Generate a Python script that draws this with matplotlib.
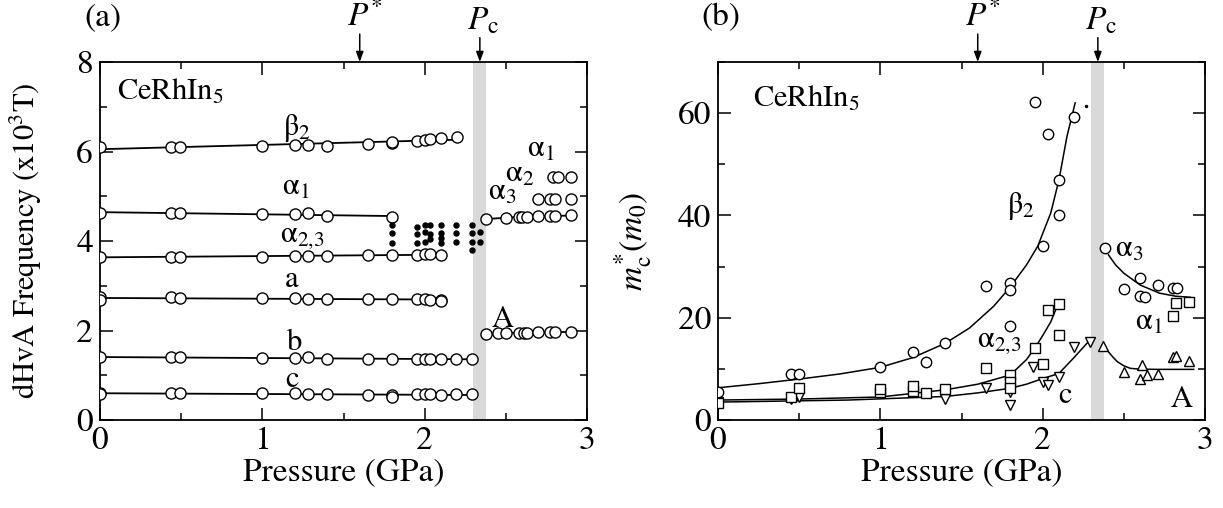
import numpy as np
import matplotlib
matplotlib.use("Agg")
import matplotlib.pyplot as plt
from matplotlib.ticker import MultipleLocator

plt.rcParams['font.family'] = ['STIXGeneral', 'DejaVu Serif']
plt.rcParams['mathtext.fontset'] = 'stix'

# ---------------- Panel (a): dHvA frequencies (x10^3 T) ----------------
beta2_P = [0, 0.44, 0.49, 1.0, 1.2, 1.28, 1.4, 1.65, 1.8, 1.8, 1.95, 2.0, 2.03, 2.1, 2.2]
beta2_F = [6.11, 6.11, 6.10, 6.12, 6.14, 6.15, 6.12, 6.16, 6.19, 6.22, 6.24, 6.26, 6.28, 6.30, 6.32]
alpha1_P = [0, 0.44, 0.49, 1.0, 1.2, 1.28, 1.4, 1.8]
alpha1_F = [4.63, 4.63, 4.62, 4.60, 4.60, 4.62, 4.55, 4.54]
alpha23_P = [0, 0.44, 0.49, 1.0, 1.2, 1.28, 1.4, 1.65, 1.8, 1.95, 2.0, 2.03, 2.1]
alpha23_F = [3.65, 3.65, 3.65, 3.64, 3.66, 3.66, 3.67, 3.69, 3.69, 3.69, 3.70, 3.70, 3.69]
a_P = [0, 0, 0.44, 0.49, 1.0, 1.2, 1.28, 1.4, 1.65, 1.8, 1.95, 2.0, 2.03, 2.1, 2.1]
a_F = [2.74, 2.68, 2.74, 2.72, 2.73, 2.72, 2.70, 2.71, 2.70, 2.70, 2.70, 2.70, 2.69, 2.69, 2.66]
b_P = [0, 0.44, 0.49, 1.0, 1.2, 1.28, 1.4, 1.65, 1.8, 1.95, 2.0, 2.03, 2.1, 2.19, 2.29]
b_F = [1.40, 1.40, 1.40, 1.38, 1.38, 1.40, 1.37, 1.37, 1.37, 1.36, 1.36, 1.36, 1.36, 1.36, 1.36]
c_P = [0, 0, 0.44, 0.49, 1.0, 1.2, 1.28, 1.4, 1.65, 1.8, 1.8, 1.95, 2.0, 2.03, 2.1, 2.19, 2.29]
c_F = [0.60, 0.57, 0.60, 0.60, 0.60, 0.60, 0.58, 0.58, 0.55, 0.55, 0.52, 0.57, 0.57, 0.57, 0.56, 0.57, 0.57]
hp_alpha3_P = [2.38, 2.5, 2.58, 2.60, 2.63, 2.70, 2.77, 2.80, 2.9]
hp_alpha3_F = [4.49, 4.52, 4.54, 4.54, 4.54, 4.55, 4.56, 4.56, 4.57]
hp_alpha2_P = [2.70, 2.77, 2.80, 2.9]
hp_alpha2_F = [4.94, 4.94, 4.94, 4.94]
hp_alpha1_P = [2.79, 2.82, 2.9]
hp_alpha1_F = [5.42, 5.42, 5.42]
hp_A_P = [2.38, 2.45, 2.5, 2.58, 2.61, 2.63, 2.70, 2.77, 2.80, 2.9]
hp_A_F = [1.93, 1.94, 1.95, 1.95, 1.95, 1.95, 1.96, 1.96, 1.96, 1.97]
dots_P = [1.8, 1.8, 1.8, 1.95, 1.95, 1.95, 2.0, 2.0, 2.0, 2.03, 2.03, 2.03,
          2.1, 2.1, 2.1, 2.1, 2.19, 2.19, 2.19, 2.29, 2.29, 2.29, 2.29, 2.34, 2.34]
dots_F = [4.36, 4.17, 3.95, 4.32, 4.16, 3.95, 4.36, 4.20, 3.97, 4.36, 4.15, 4.05,
          4.36, 4.17, 4.06, 3.95, 4.36, 4.17, 3.98, 4.36, 4.17, 3.98, 3.80, 4.20, 3.98]

# ---------------- Panel (b): cyclotron masses m*_c (m0) ----------------
mb2_P = [0, 0.45, 0.5, 1.0, 1.2, 1.28, 1.4, 1.65, 1.8, 1.8, 1.8, 1.95, 2.0, 2.035, 2.1, 2.1, 2.19]
mb2_m = [5.5, 8.9, 8.9, 10.4, 13.2, 11.4, 15.1, 26.2, 26.7, 25.4, 18.4, 62.2, 34.1, 55.9, 40.1, 46.9, 59.3]
mb2_curveP = [0, 0.25, 0.5, 0.75, 1.0, 1.2, 1.4, 1.55, 1.7, 1.8, 1.9, 1.97, 2.05, 2.1, 2.15, 2.2]
mb2_curvem = [6.3, 7.1, 8.0, 9.0, 10.3, 12.2, 15.0, 18.0, 22.3, 26.0, 30.3, 34.0, 40.5, 46.9, 55.5, 62.0]
ma23_P = [0, 0.45, 0.5, 1.0, 1.0, 1.2, 1.2, 1.28, 1.4, 1.65, 1.8, 1.8, 1.8, 1.95, 2.0, 2.035, 2.1, 2.1]
ma23_m = [3.4, 4.4, 6.3, 5.5, 6.0, 5.7, 6.6, 5.2, 6.0, 10.2, 8.8, 7.5, 6.2, 14.0, 11.0, 21.5, 22.7, 16.6]
ma23_curveP = [0, 0.5, 1.0, 1.4, 1.6, 1.8, 1.9, 1.95, 2.0, 2.05, 2.09]
ma23_curvem = [3.9, 4.1, 4.5, 5.9, 7.0, 8.8, 11.8, 14.0, 16.5, 19.2, 22.3]
mc_P = [0, 0.45, 0.5, 1.4, 1.65, 1.8, 1.8, 1.94, 2.0, 2.03, 2.1, 2.19, 2.29]
mc_m = [3.6, 4.2, 4.5, 4.2, 6.2, 5.4, 2.9, 10.4, 7.5, 6.8, 8.5, 14.2, 15.3]
mc_curveP = [0, 0.8, 1.4, 1.6, 1.8, 1.9, 2.0, 2.1, 2.19, 2.29]
mc_curvem = [3.5, 3.9, 4.6, 5.3, 6.2, 7.0, 8.1, 9.1, 12.1, 15.6]
ma3_P = [2.385, 2.5, 2.6, 2.6, 2.63, 2.71, 2.80, 2.83]
ma3_m = [33.6, 25.6, 27.7, 24.2, 24.1, 26.4, 25.9, 25.9]
ma3_curveP = [2.405, 2.45, 2.5, 2.6, 2.72, 2.82, 2.91]
ma3_curvem = [32.3, 30.3, 28.7, 26.4, 24.8, 24.2, 24.0]
ma1_P = [2.8, 2.82, 2.9]
ma1_m = [20.3, 22.9, 23.1]
mA_P = [2.37, 2.5, 2.6, 2.61, 2.64, 2.71, 2.80, 2.82, 2.9]
mA_m = [14.5, 9.3, 8.1, 10.8, 8.8, 9.0, 12.3, 12.5, 11.6]
mA_curveP = [2.395, 2.43, 2.46, 2.5, 2.54, 2.6, 2.7, 2.8, 2.93]
mA_curvem = [13.7, 12.4, 11.4, 10.6, 10.1, 9.95, 9.9, 9.9, 9.9]
stray_P = [2.27]
stray_m = [61.4]

P_star = 1.6
Pc_band = (2.30, 2.38)
Pc = 2.34

FS = 24      # tick labels, axis labels, P*/Pc
FT = 22      # in-plot labels
W, H = 1223, 508
fig = plt.figure(figsize=(W / 100, H / 100), dpi=100)
axA = fig.add_axes([100 / W, 88 / H, 487 / W, 358 / H])
axB = fig.add_axes([718 / W, 88 / H, 487 / W, 358 / H])

for ax in (axA, axB):
    ax.axvspan(*Pc_band, color='#d9d9d9', lw=0, zorder=0)
    ax.set_xlim(0, 3)
    ax.xaxis.set_major_locator(MultipleLocator(1))
    ax.xaxis.set_minor_locator(MultipleLocator(0.5))
    ax.tick_params(which='both', direction='in', top=True, right=True,
                   labelsize=FS, width=1.1, pad=5)
    ax.tick_params(which='major', length=9)
    ax.tick_params(which='minor', length=5)
    for s in ax.spines.values():
        s.set_linewidth(1.3)
    ax.set_xlabel('Pressure (GPa)', fontsize=FS, labelpad=1)
    ax.annotate('', xy=(P_star, 1.0), xytext=(P_star, 1.078),
                xycoords=('data', 'axes fraction'),
                arrowprops=dict(arrowstyle='-|>,head_length=0.6,head_width=0.22',
                                color='black', lw=1.1, shrinkA=0, shrinkB=0),
                annotation_clip=False)
    ax.annotate('', xy=(Pc, 1.0), xytext=(Pc, 1.068),
                xycoords=('data', 'axes fraction'),
                arrowprops=dict(arrowstyle='-|>,head_length=0.6,head_width=0.22',
                                color='black', lw=1.1, shrinkA=0, shrinkB=0),
                annotation_clip=False)
    ax.text(P_star - 0.08, 1.083, r'$P^{*}$', transform=ax.get_xaxis_transform(),
            fontsize=FS, ha='left', va='bottom')
    ax.text(Pc - 0.08, 1.07, r'$P_{\mathrm{c}}$', transform=ax.get_xaxis_transform(),
            fontsize=FS, ha='left', va='bottom')

# ---- Panel (a)
circ = dict(marker='o', ms=8, mfc='white', mec='black', mew=1.0, ls='none', zorder=3)
series_a = [(beta2_P, beta2_F), (alpha1_P, alpha1_F), (alpha23_P, alpha23_F),
            (a_P, a_F), (b_P, b_F), (c_P, c_F)]
for P, F in series_a:
    k, q = np.polyfit(P, F, 1)
    xs = np.array([min(P), max(P)])
    axA.plot(xs, k * xs + q, color='black', lw=1.3, zorder=2)
    axA.plot(P, F, **circ)
axA.plot(hp_alpha3_P, hp_alpha3_F, color='black', lw=1.3, zorder=2)
axA.plot(hp_alpha3_P, hp_alpha3_F, **circ)
axA.plot(hp_alpha2_P, hp_alpha2_F, **circ)
axA.plot(hp_alpha1_P, hp_alpha1_F, **circ)
axA.plot(hp_A_P, hp_A_F, color='black', lw=1.3, zorder=2)
axA.plot(hp_A_P, hp_A_F, **circ)
axA.plot(dots_P, dots_F, marker='o', ms=3.6, color='black', ls='none', zorder=3)

axA.set_ylim(0, 8)
axA.yaxis.set_major_locator(MultipleLocator(2))
axA.yaxis.set_minor_locator(MultipleLocator(1))
axA.set_ylabel(r'dHvA Frequency (x10$^{3}$T)', fontsize=22)
axA.yaxis.set_label_coords(-56 / 487, 0.5)

tk = dict(fontsize=FT, ha='left', va='baseline')
axA.text(0.105, 7.15, r'CeRhIn$_{5}$', **tk)
axA.text(1.13, 6.37, r'β$_{2}$', **tk)
axA.text(1.12, 5.03, r'α$_{1}$', **tk)
axA.text(1.11, 3.98, r'α$_{2{,}3}$', **tk)
axA.text(1.14, 2.97, 'a', **tk)
axA.text(1.15, 1.56, 'b', **tk)
axA.text(1.14, 0.74, 'c', **tk)
axA.text(2.415, 2.08, 'A', **tk)
axA.text(2.63, 5.88, r'α$_{1}$', **tk)
axA.text(2.495, 5.32, r'α$_{2}$', **tk)
axA.text(2.39, 4.92, r'α$_{3}$', **tk)

# ---- Panel (b)
mk = dict(mfc='white', mec='black', mew=1.0, ls='none', zorder=3)
axB.plot(mb2_curveP, mb2_curvem, color='black', lw=1.1, zorder=2)
axB.plot(ma23_curveP, ma23_curvem, color='black', lw=1.1, zorder=2)
axB.plot(mc_curveP, mc_curvem, color='black', lw=1.1, zorder=2)
axB.plot(ma3_curveP, ma3_curvem, color='black', lw=1.1, zorder=2)
axB.plot(mA_curveP, mA_curvem, color='black', lw=1.1, zorder=2)
axB.plot(mc_P, mc_m, marker='v', ms=7.5, **mk)
axB.plot(ma23_P, ma23_m, marker='s', ms=7, **mk)
axB.plot(mb2_P, mb2_m, marker='o', ms=7.5, **mk)
axB.plot(ma3_P, ma3_m, marker='o', ms=7.5, **mk)
axB.plot(ma1_P, ma1_m, marker='s', ms=7, **mk)
axB.plot(mA_P, mA_m, marker='^', ms=7.5, **mk)
axB.plot(stray_P, stray_m, marker='o', ms=1.5, color='black', ls='none')

axB.set_ylim(0, 70)
axB.yaxis.set_major_locator(MultipleLocator(20))
axB.yaxis.set_minor_locator(MultipleLocator(10))
axB.set_ylabel(r'$m^{*}_{\mathrm{c}}(m_{0})$', fontsize=FS)
axB.yaxis.set_label_coords(-64 / 487, 0.5)

axB.text(0.216, 61.2, r'CeRhIn$_{5}$', **tk)
axB.text(1.78, 40.5, r'β$_{2}$', **tk)
axB.text(1.594, 14.3, r'α$_{2{,}3}$', **tk)
axB.text(2.095, 3.3, 'c', **tk)
axB.text(2.446, 31.9, r'α$_{3}$', **tk)
axB.text(2.57, 17.6, r'α$_{1}$', **tk)
axB.text(2.785, 2.5, 'A', **tk)

fig.text(103 / W, 1 - 18 / H, '(a)', fontsize=FS, ha='center', va='center')
fig.text(721 / W, 1 - 18 / H, '(b)', fontsize=FS, ha='center', va='center')

fig.savefig('out.png', dpi=100)
